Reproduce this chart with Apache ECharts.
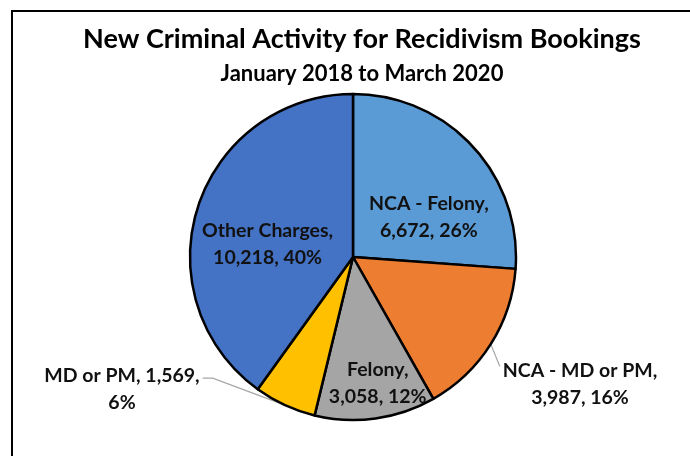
<!DOCTYPE html>
<html>
<head>
<meta charset="utf-8">
<script src="https://cdn.jsdelivr.net/npm/echarts@6/dist/echarts.min.js"></script>
<style>
  html, body { margin: 0; padding: 0; background: #fff; }
  #chart { width: 690px; height: 456px; }
</style>
</head>
<body>
<div id="chart"></div>
<script>
// Booking categories, in drawing order (clockwise from 12 o'clock)
const categories = ['NCA - Felony', 'NCA - MD or PM', 'Felony', 'MD or PM', 'Other Charges'];
const bookings = [6672, 3987, 3058, 1569, 10218];
const sliceColors = ['#5B9BD5', '#ED7D31', '#A5A5A5', '#FFC000', '#4472C4'];
// Where each label's line break falls: after the name, or after the count
const labelBreak = ['name', 'name', 'name', 'value', 'name'];
const labelInside = [true, false, true, false, true];

const titleText = 'New Criminal Activity for Recidivism Bookings';
const subtitleText = 'January 2018 to March 2020';

// Label nudges (inside labels) and anchor points (outside labels)
const insideShift = { 0: [14, 18], 2: [13, 43], 4: [-5, 13] };
const outsideAnchor = { 1: [580, 384], 3: [122, 389] };

const FONT = 'Lato';
const chart = echarts.init(document.getElementById('chart'), null, { renderer: 'canvas' });

const fmtNum = v => v.toLocaleString('en-US');

const data = categories.map((name, i) => ({
  name,
  value: bookings[i],
  itemStyle: { color: sliceColors[i] },
  label: { position: labelInside[i] ? 'inside' : 'outside' },
  labelLine: { show: !labelInside[i] }
}));

chart.setOption({
  animation: false,
  title: [
    {
      text: titleText,
      left: 357, top: 21, textAlign: 'center',
      textStyle: { fontFamily: FONT, fontWeight: 'bold', fontSize: 27, color: '#000' }
    },
    {
      text: subtitleText,
      left: 357, top: 58, textAlign: 'center',
      textStyle: { fontFamily: FONT, fontWeight: 'bold', fontSize: 22, color: '#000' }
    }
  ],
  graphic: [
    {
      type: 'rect',
      shape: { x: 12, y: 11, width: 720, height: 500 },
      style: { fill: null, stroke: '#000', lineWidth: 2 },
      silent: true
    }
  ],
  series: [{
    type: 'pie',
    center: [353, 257],
    radius: 163,
    startAngle: 90,
    clockwise: true,
    avoidLabelOverlap: false,
    itemStyle: { borderColor: '#000', borderWidth: 2.5 },
    label: {
      fontFamily: FONT,
      fontWeight: 'bold',
      fontSize: 19.5,
      lineHeight: 27,
      color: '#111',
      align: 'center',
      formatter: p => {
        const i = p.dataIndex;
        const pct = Math.round(p.percent) + '%';
        return labelBreak[i] === 'name'
          ? p.name + ',\n' + fmtNum(p.value) + ', ' + pct
          : p.name + ', ' + fmtNum(p.value) + ',\n' + pct;
      }
    },
    labelLine: { lineStyle: { color: '#A6A6A6', width: 1.2 }, length: 10, length2: 10 },
    labelLayout: params => {
      const i = params.dataIndex;
      if (insideShift[i]) {
        return { dx: insideShift[i][0], dy: insideShift[i][1] };
      }
      const a = outsideAnchor[i];
      const edge = params.labelLinePoints ? params.labelLinePoints[0] : null;
      const w = params.labelRect.width;
      const h = params.labelRect.height;
      let pts;
      if (edge) {
        if (a[0] < edge[0]) {
          // left-hand label: line bends into the end of its first row
          const endX = a[0] + w / 2 + 3;
          const endY = a[1] - h * 0.2;
          pts = [edge, [endX + 10, endY], [endX, endY]];
        } else {
          // right-hand label: line drops to its upper-left corner
          const endX = a[0] - w / 2 - 3;
          const endY = a[1] - h * 0.33;
          pts = [edge, [endX, endY], [endX, endY]];
        }
      }
      return { x: a[0], y: a[1], align: 'center', verticalAlign: 'middle', labelLinePoints: pts };
    },
    data
  }]
});
</script>
</body>
</html>
